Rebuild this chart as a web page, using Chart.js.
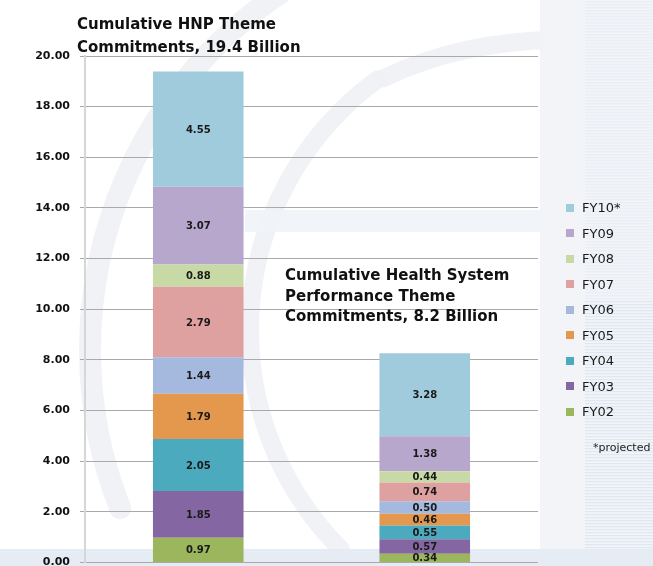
<!DOCTYPE html>
<html>
<head>
<meta charset="utf-8">
<script src="https://cdn.jsdelivr.net/npm/chart.js@4.4.1/dist/chart.umd.min.js"></script>
<style>
  body { margin: 0; background: #fff; overflow: hidden; }
  #wrap { position: relative; width: 653px; height: 566px; overflow: hidden; font-family: "DejaVu Sans", sans-serif; }
  #chart { position: absolute; left: 0; top: 0; }
  .title { position: absolute; font-weight: bold; font-size: 15px; color: #111; white-space: nowrap; }
  #legend { position: absolute; left: 566px; top: 195px; }
  .item { height: 25.5px; display: flex; align-items: center; font-size: 13px; color: #1a1a1a; }
  .box { width: 8px; height: 8px; margin-right: 8px; }
  #note { position: absolute; left: 593px; top: 441px; font-size: 11px; color: #222; white-space: nowrap; }
</style>
</head>
<body>
<div id="wrap">
  <canvas id="chart" width="653" height="579"></canvas>
  <div class="title" style="left:77px; top:13px; line-height:23px;">Cumulative HNP Theme<br>Commitments, 19.4 Billion</div>
  <div class="title" style="left:285px; top:265px; line-height:20.5px;">Cumulative Health System<br>Performance Theme<br>Commitments, 8.2 Billion</div>
  <div id="legend"></div>
  <div id="note">*projected</div>
</div>
<script>
// Data
const categories = ['HNP Theme', 'Health System Performance Theme'];
const years = ['FY02', 'FY03', 'FY04', 'FY05', 'FY06', 'FY07', 'FY08', 'FY09', 'FY10*'];
const hnpValues = [0.97, 1.85, 2.05, 1.79, 1.44, 2.79, 0.88, 3.07, 4.55];
const hspValues = [0.34, 0.57, 0.55, 0.46, 0.50, 0.74, 0.44, 1.38, 3.28];
const yTicks = [0, 2, 4, 6, 8, 10, 12, 14, 16, 18, 20];

const colors = ['#9bb65c', '#8366a2', '#4baabe', '#e4984d', '#a5b8de', '#dea1a0', '#c7daa5', '#b8a7cd', '#a0cbdc'];

const datasets = years.map((yr, i) => ({
    label: yr,
    data: [hnpValues[i], hspValues[i]],
    backgroundColor: colors[i],
    borderWidth: 0,
    barPercentage: 0.4,
    categoryPercentage: 1.0
}));

// background: very faint globe arcs, pale panel on the right
const bgPlugin = {
    id: 'bg',
    beforeDraw(chart) {
        const c = chart.ctx;
        c.save();
        c.fillStyle = '#fff';
        c.fillRect(0, 0, chart.width, chart.height);

        c.strokeStyle = 'rgba(238,241,245,0.9)';
        c.lineCap = 'round';
        c.lineWidth = 22;
        c.beginPath();
        c.arc(520, 350, 430, Math.PI * 0.88, Math.PI * 1.45);
        c.stroke();
        c.lineWidth = 18;
        c.beginPath();
        c.arc(560, 330, 310, Math.PI * 0.75, Math.PI * 1.3);
        c.stroke();
        c.beginPath();
        c.ellipse(560, 240, 300, 200, 0, Math.PI * 1.3, Math.PI * 1.5);
        c.stroke();
        c.fillStyle = 'rgba(240,243,247,0.9)';
        c.fillRect(245, 210, 300, 22);

        c.fillStyle = '#f2f4f8';
        c.fillRect(540, 0, chart.width - 540, chart.height);
        for (let y = 1; y < chart.height; y += 3) {
            c.fillStyle = y > 300 ? 'rgba(200,215,235,0.45)' : 'rgba(215,224,238,0.3)';
            c.fillRect(585, y, chart.width - 585, 1.2);
        }
        c.fillStyle = '#e6ecf4';
        c.fillRect(0, 549, chart.width, chart.height - 549);
        c.restore();
    }
};

const valueLabels = {
    id: 'valueLabels',
    afterDatasetsDraw(chart) {
        const c = chart.ctx;
        c.save();
        c.font = 'bold 10px "DejaVu Sans", sans-serif';
        c.fillStyle = '#1a1a1a';
        c.textAlign = 'center';
        c.textBaseline = 'middle';
        chart.data.datasets.forEach((ds, i) => {
            const meta = chart.getDatasetMeta(i);
            meta.data.forEach((bar, j) => {
                const v = ds.data[j];
                c.fillText(v.toFixed(2), bar.x, (bar.y + bar.base) / 2 + 1);
            });
        });
        c.restore();
    }
};

const chart = new Chart(document.getElementById('chart'), {
    type: 'bar',
    data: { labels: categories, datasets: datasets },
    options: {
        responsive: false,
        animation: false,
        layout: { padding: { top: 56, right: 115, bottom: 5, left: 0 } },
        plugins: {
            legend: { display: false },
            tooltip: { enabled: false }
        },
        scales: {
            x: {
                stacked: true,
                display: false
            },
            y: {
                stacked: true,
                min: 0,
                max: 20,
                afterFit(scale) { scale.width = 85; },
                afterBuildTicks(scale) { scale.ticks = yTicks.map(v => ({ value: v })); },
                border: { color: '#d6d6d6', width: 2 },
                grid: { color: '#a9a9a9', lineWidth: 1, tickLength: 5, drawTicks: true },
                ticks: {
                    padding: 10,
                    color: '#111',
                    font: { family: '"DejaVu Sans", sans-serif', size: 11, weight: 'bold' },
                    callback: v => v.toFixed(2)
                }
            }
        }
    },
    plugins: [bgPlugin, valueLabels]
});

// legend, top to bottom in reverse order like the stack
const legend = document.getElementById('legend');
for (let i = years.length - 1; i >= 0; i--) {
    const row = document.createElement('div');
    row.className = 'item';
    row.innerHTML = '<span class="box" style="background:' + colors[i] + '"></span>' + years[i];
    legend.appendChild(row);
}
</script>
</body>
</html>
